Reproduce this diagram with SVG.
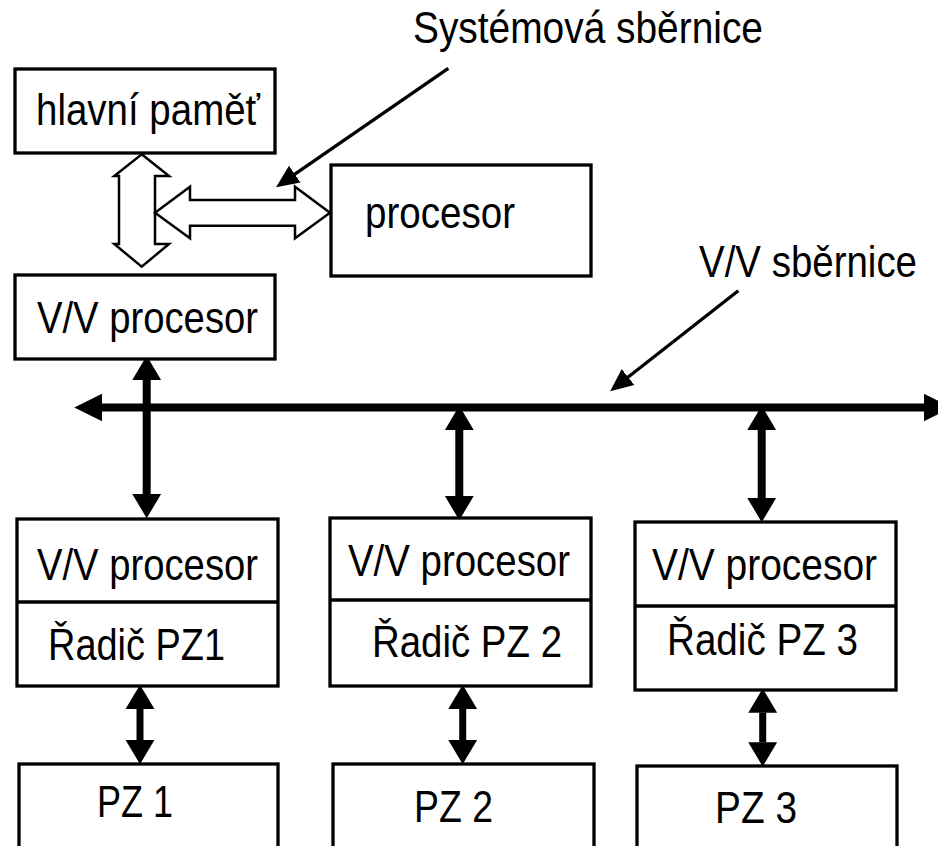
<svg xmlns="http://www.w3.org/2000/svg" width="938" height="846" viewBox="0 0 938 846">
<style>
.box{fill:#fff;stroke:#000;stroke-width:3.3;stroke-linejoin:miter}
.t{font-family:"Liberation Sans",Arial,sans-serif;font-size:45px;fill:#000}
.thick{stroke:#000;fill:none}
.hollow{fill:#fff;stroke:#000;stroke-width:2.5;stroke-linejoin:miter}
.ptr{stroke:#000;stroke-width:3.3;fill:none;marker-end:url(#ptr)}
</style>
<defs>
<marker id="head" markerUnits="userSpaceOnUse" markerWidth="30" markerHeight="30" viewBox="0 -13 22 26" refX="0" refY="0" orient="auto-start-reverse">
<path d="M0,-12.5 L21,0 L0,12.5 z" fill="#000"/>
</marker>
<marker id="bushead" markerUnits="userSpaceOnUse" markerWidth="30" markerHeight="30" viewBox="0 -13 25 26" refX="0" refY="0" orient="auto-start-reverse">
<path d="M0,-12 L24,0 L0,12 z" fill="#000"/>
</marker>
<marker id="ptr" markerUnits="userSpaceOnUse" markerWidth="24" markerHeight="24" viewBox="0 -10 20 20" refX="15" refY="0" orient="auto">
<path d="M0,-8.5 L19,0 L0,8.5 z" fill="#000"/>
</marker>
</defs>
<rect width="938" height="846" fill="#fff"/>

<g id="connectors">
<polygon class="hollow" points="141.7,154.3 169,176 155,176 155,244 169,244 141.7,266.7 114.3,244 119,244 119,176 114.3,176"/>
<polygon class="hollow" points="155,212.7 190,186.7 190,200 295,200 295,186.7 330,212.7 295,238.3 295,225.7 190,225.7 190,238.3"/>
<line class="thick" x1="102" y1="407.5" x2="924" y2="407.5" stroke-width="8" marker-start="url(#bushead)" marker-end="url(#bushead)"/>
<line class="thick" x1="146.7" y1="380" x2="146.7" y2="494" stroke-width="8" marker-start="url(#head)" marker-end="url(#head)"/>
<line class="thick" x1="459.3" y1="430" x2="459.3" y2="496" stroke-width="8" marker-start="url(#head)" marker-end="url(#head)"/>
<line class="thick" x1="761.7" y1="430" x2="761.7" y2="498" stroke-width="8" marker-start="url(#head)" marker-end="url(#head)"/>
<line class="thick" x1="140" y1="709" x2="140" y2="740" stroke-width="7" marker-start="url(#head)" marker-end="url(#head)"/>
<line class="thick" x1="462.7" y1="709" x2="462.7" y2="740" stroke-width="7" marker-start="url(#head)" marker-end="url(#head)"/>
<line class="thick" x1="762.7" y1="712.7" x2="762.7" y2="742.3" stroke-width="7" marker-start="url(#head)" marker-end="url(#head)"/>
<line class="ptr" x1="448.3" y1="68.3" x2="280" y2="184.4"/>
<line class="ptr" x1="738.3" y1="290.7" x2="613.9" y2="388.2"/>
</g>

<g id="label-systemova">
<text class="t" x="413" y="43" textLength="350" lengthAdjust="spacingAndGlyphs">Systémová sběrnice</text>
</g>
<g id="label-vv-sbernice">
<text class="t" x="699" y="277" textLength="218" lengthAdjust="spacingAndGlyphs">V/V sběrnice</text>
</g>

<g id="hlavni-pamet">
<rect class="box" x="15" y="69" width="260" height="84"/>
<text class="t" x="36" y="125" textLength="224" lengthAdjust="spacingAndGlyphs">hlavní paměť</text>
</g>
<g id="procesor">
<rect class="box" x="331" y="165" width="260" height="111"/>
<text class="t" x="365" y="228" textLength="150" lengthAdjust="spacingAndGlyphs">procesor</text>
</g>
<g id="vv-procesor-top">
<rect class="box" x="15" y="275" width="260" height="84"/>
<text class="t" x="37" y="332.7" textLength="221" lengthAdjust="spacingAndGlyphs">V/V procesor</text>
</g>

<g id="radic1">
<rect class="box" x="17" y="519" width="261" height="167"/>
<line x1="17" y1="602" x2="278" y2="602" stroke="#000" stroke-width="3.3"/>
<text class="t" x="37" y="580" textLength="221" lengthAdjust="spacingAndGlyphs">V/V procesor</text>
<text class="t" x="48" y="660" textLength="177" lengthAdjust="spacingAndGlyphs">Řadič PZ1</text>
</g>
<g id="radic2">
<rect class="box" x="330" y="518" width="261" height="168"/>
<line x1="330" y1="600" x2="591" y2="600" stroke="#000" stroke-width="3.3"/>
<text class="t" x="348" y="576" textLength="222" lengthAdjust="spacingAndGlyphs">V/V procesor</text>
<text class="t" x="372" y="656.7" textLength="190" lengthAdjust="spacingAndGlyphs">Řadič PZ 2</text>
</g>
<g id="radic3">
<rect class="box" x="635" y="522" width="261" height="168"/>
<line x1="635" y1="606" x2="896" y2="606" stroke="#000" stroke-width="3.3"/>
<text class="t" x="652" y="580" textLength="225" lengthAdjust="spacingAndGlyphs">V/V procesor</text>
<text class="t" x="667" y="655" textLength="191" lengthAdjust="spacingAndGlyphs">Řadič PZ 3</text>
</g>

<g id="pz1">
<rect class="box" x="19" y="764" width="259" height="100"/>
<text class="t" x="97" y="817" textLength="76" lengthAdjust="spacingAndGlyphs">PZ 1</text>
</g>
<g id="pz2">
<rect class="box" x="333" y="764" width="261" height="100"/>
<text class="t" x="414" y="821.7" textLength="79" lengthAdjust="spacingAndGlyphs">PZ 2</text>
</g>
<g id="pz3">
<rect class="box" x="637" y="766" width="260" height="100"/>
<text class="t" x="715" y="823.3" textLength="82" lengthAdjust="spacingAndGlyphs">PZ 3</text>
</g>
</svg>
